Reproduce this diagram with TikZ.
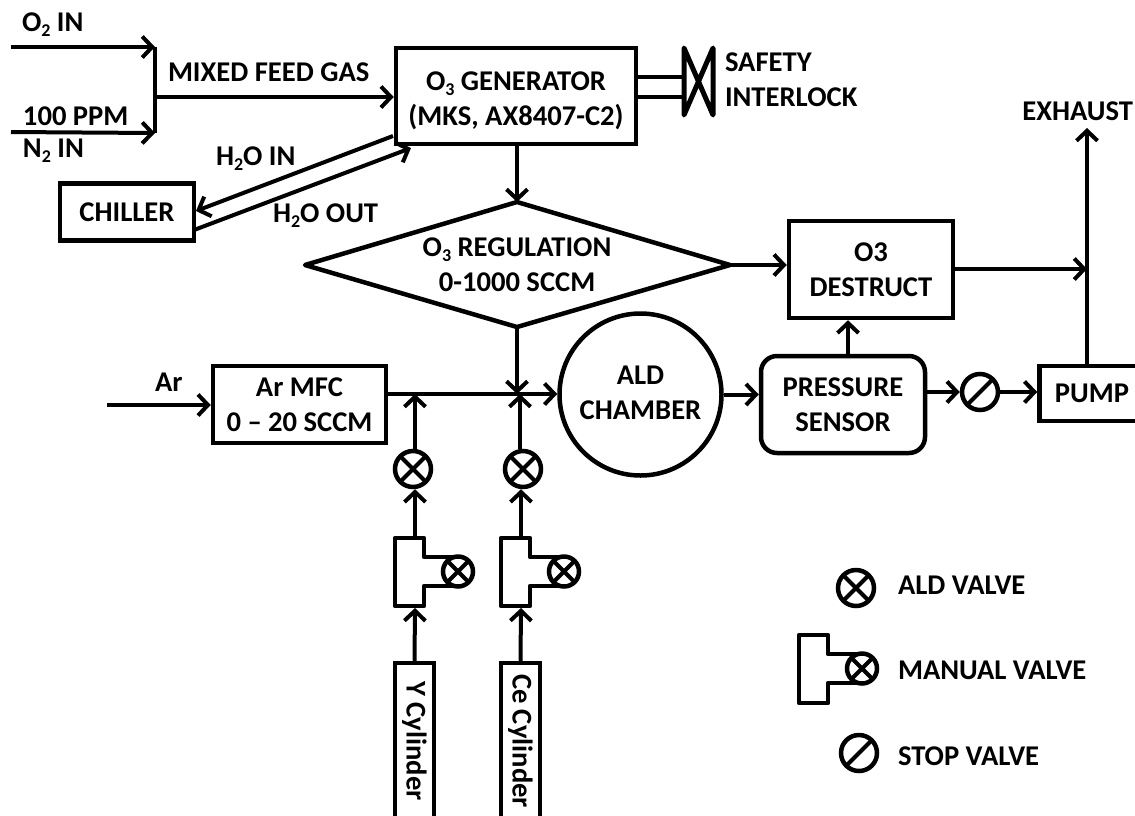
\documentclass[tikz,border=0pt]{standalone}
\usepackage{fontspec}
\setmainfont{Carlito}
\usetikzlibrary{arrows.meta,positioning}

\newcommand{\lowidx}[1]{\raisebox{-5pt}{\fontsize{18}{18}\selectfont #1}}

\tikzset{
  every node/.style={font=\fontsize{28.6}{35}\selectfont\bfseries,inner sep=0pt,align=center},
  unit/.style={draw,line width=4.5pt,minimum width=#1},
  tag/.style={anchor=west},
  valvex/.style={circle,draw,line width=4.5pt,minimum size=#1,
    path picture={\draw[line width=4pt]
      (path picture bounding box.north west) -- (path picture bounding box.south east)
      (path picture bounding box.north east) -- (path picture bounding box.south west);}},
  valvestop/.style={circle,draw,line width=4.5pt,minimum size=36pt,
    path picture={\draw[line width=4pt]
      (path picture bounding box.north east) -- (path picture bounding box.south west);}},
  manualvalve/.pic={
    \draw[line width=4.5pt,line join=round] (58,19) -- (29,19) -- (29,0) -- (0,0) -- (0,68)
      -- (29,68) -- (29,48) -- (58,48);
    \node[valvex=30pt] at (63,33.5) {};
    \coordinate (-top) at (20,-2);
    \coordinate (-bot) at (20,70);
  }
}

\begin{document}
\begin{tikzpicture}[x=1pt,y=-1pt,line width=4pt,
                    >={Straight Barb[length=10pt,width=21pt,line width=4pt]}]
  \clip (0,0) rectangle (1135,815);

  \node[unit=240pt,minimum height=96pt,label={[yshift=-5pt]center:O\lowidx{3} GENERATOR\\(MKS, AX8407-C2)}] (o3gen) at (516,96) {};
  \node[unit=134pt,minimum height=57pt] (chiller)  at (127,212)   {CHILLER};
  \node[unit=164pt,minimum height=97pt] (destruct) at (871,269.5) {O3\\DESTRUCT};
  \node[unit=173pt,minimum height=77pt] (armfc)    at (299.5,404.5) {Ar MFC\\0 -- 20 SCCM};
  \node[unit=164pt,minimum height=97pt,rounded corners=16pt] (sensor) at (843,404.5) {PRESSURE\\SENSOR};
  \node[unit=105pt,minimum height=55pt] (pump)     at (1092,393.5) {PUMP};
  \node[circle,draw,line width=4.5pt,minimum size=162pt,label={[yshift=2pt]center:ALD\\CHAMBER}] (chamber) at (640.5,394.5) {};

  % regulation diamond
  \coordinate (regtop) at (517,202);
  \coordinate (regbot) at (517,327);
  \coordinate (regleft) at (305,265);
  \coordinate (regright) at (730,265);
  \draw[line width=4.5pt,line join=round] (regtop) -- (regright) -- (regbot) -- (regleft) -- cycle;
  \node (reglabel) at (517,265) {O\lowidx{3} REGULATION\\0-1000 SCCM};

  % cylinders
  \node[unit=156pt,minimum height=39pt,rotate=-90] (ycyl)  at (414.5,741) {Y Cylinder};
  \node[unit=156pt,minimum height=39pt,rotate=-90] (cecyl) at (520.5,741) {Ce Cylinder};

  % valves
  \node[valvex=36pt] (yald)  at (413,469) {};
  \node[valvex=36pt] (ceald) at (523,469) {};
  \node[valvestop]   (stop)  at (980,392) {};
  \pic (yman)  at (395,538) {manualvalve};
  \pic (ceman) at (501,538) {manualvalve};

  % free ends and junctions
  \coordinate (o2in)  at (11,47);
  \coordinate (n2in)  at (11,132);
  \coordinate (arin)  at (107,405);
  \coordinate (mixt)  at (155,47);
  \coordinate (mixb)  at (155,133);
  \coordinate (mixm)  at (155,97);
  \coordinate (junc)  at (520,394);
  \coordinate (yjunc) at (415,394);
  \coordinate (exh)   at (1087,128);
  \coordinate (exhm)  at (1087,269);

  \draw[line width=4.5pt] (mixt) -- (mixb);
  \path[->] (o2in)  edge (mixt)
            (n2in)  edge (mixb)
            (mixm)  edge (o3gen.west |- mixm)
            (o3gen.south -| regtop) edge (regtop)
            (regright) edge (destruct.west |- regright)
            (destruct.east |- exhm) edge (exhm)
            (pump.north -| exh) edge (exh)
            (regbot) edge (regbot |- junc)
            (arin)  edge (armfc.west |- arin)
            (armfc.east |- junc) edge (chamber.west |- junc)
            (yald.north -| yjunc) edge (yjunc)
            (ceald.north -| junc) edge (junc)
            (yman-top) edge (yman-top |- yald.south)
            (ceman-top) edge (ceman-top |- ceald.south)
            (ycyl.west) edge (yman-bot)
            (cecyl.west) edge (ceman-bot)
            (chamber.east) edge (sensor.west |- chamber)
            (sensor.north -| 848,0) edge (destruct.south -| 848,0)
            (sensor.east |- stop) edge (stop.west)
            (stop.east) edge (pump.west |- stop);

  % chiller lines
  \path[->] (393,136) edge (196,211)
            (194,230) edge (411,148);

  % interlock
  \coordinate (lockl) at (684,82);
  \draw (o3gen.east |- 0,77) -- (lockl |- 0,77)
        (o3gen.east |- 0,97) -- (lockl |- 0,97);
  \draw[line width=5pt,line join=round] (684,48) -- (713,115) -- (713,48) -- (684,115) -- cycle;

  % labels
  \node[tag] (o2lab)   at (20,25)   {O\lowidx{2} IN};
  \node[tag] (mixlab)  at (166,72)  {MIXED FEED GAS};
  \node[tag] (ppmlab)  at (21,116)  {100 PPM};
  \node[tag] (n2lab)   at (21,151)  {N\lowidx{2} IN};
  \node[tag] (h2oin)   at (214,159) {H\lowidx{2}O IN};
  \node[tag] (h2oout)  at (271,216) {H\lowidx{2}O OUT};
  \node[tag] (arlab)   at (153,382) {Ar};
  \node[tag,align=left] (locklab) at (723,80) {SAFETY\\INTERLOCK};
  \node[anchor=east] (exhlab) at (1135,111) {EXHAUST};

  % legend
  \node[valvex=36pt] (legald)  at (856,588) {};
  \pic at (799,635) {manualvalve};
  \node[valvestop]   (legstop) at (859,753) {};
  \node[tag] (aldlab) at (896,585) {ALD VALVE};
  \node[tag] (manlab) at (896,670) {MANUAL VALVE};
  \node[tag] (stoplab) at (896,756) {STOP VALVE};
\end{tikzpicture}
\end{document}
